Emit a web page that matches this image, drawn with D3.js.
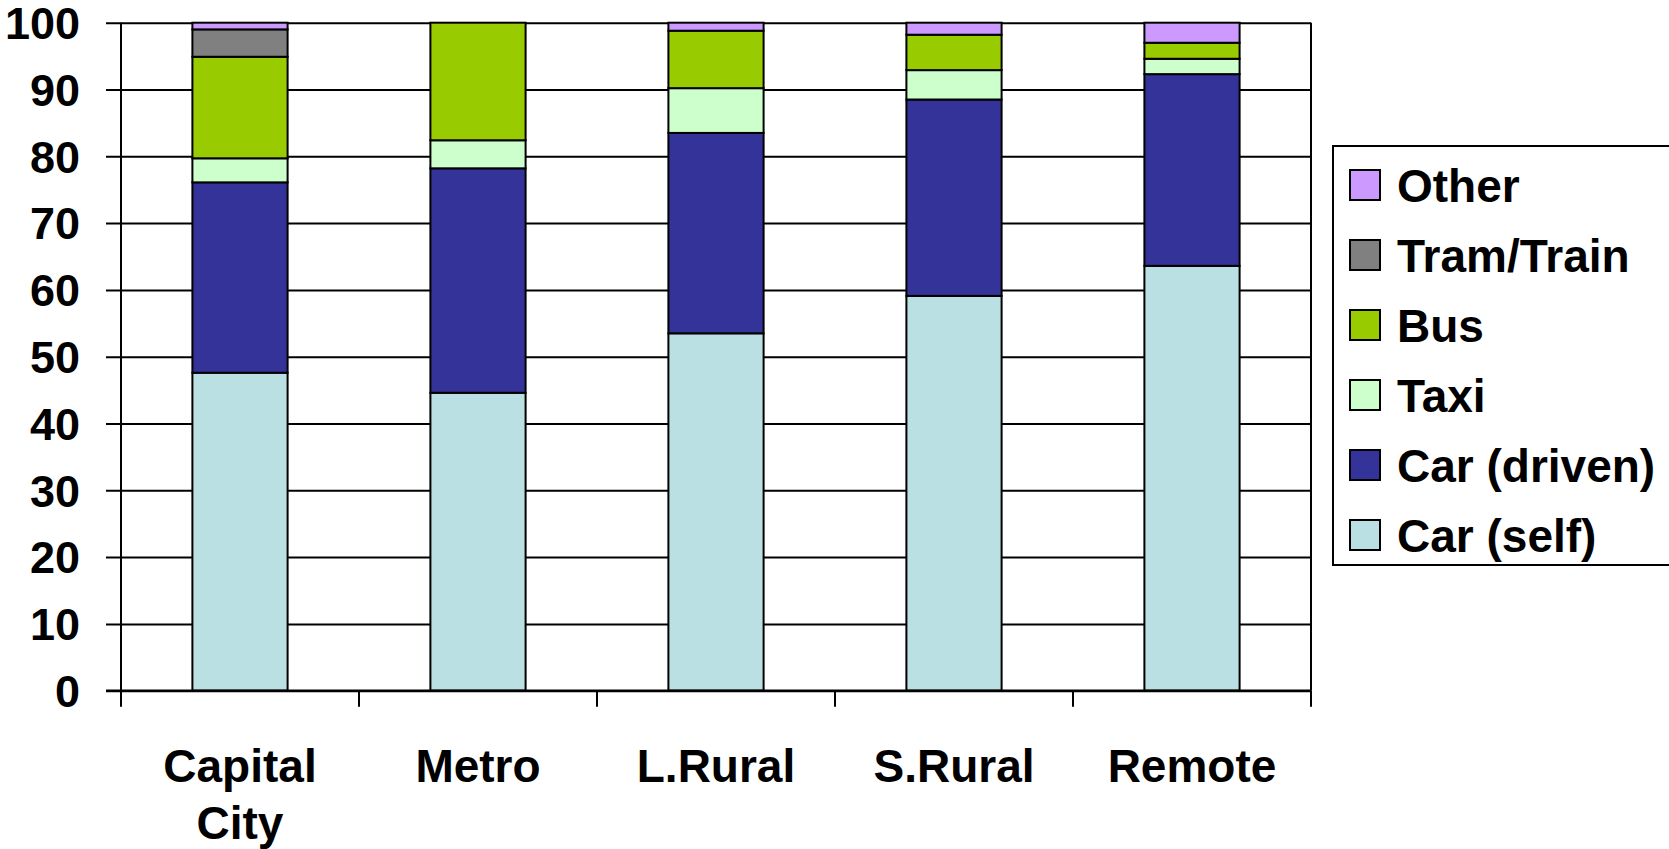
<!DOCTYPE html>
<html>
<head>
<meta charset="utf-8">
<script src="https://cdn.jsdelivr.net/npm/d3@7"></script>
<style>
  html, body { margin: 0; padding: 0; background: #fff; }
  svg { display: block; }
  text { font-family: "Liberation Sans", Arial, sans-serif; font-weight: bold; fill: #000; }
</style>
</head>
<body>
<svg id="chart" width="1669" height="849"></svg>
<script>
// Regions (x categories); "Capital City" wraps onto two lines
const categories = ["Capital City", "Metro", "L.Rural", "S.Rural", "Remote"];
const categoryLines = [["Capital", "City"], ["Metro"], ["L.Rural"], ["S.Rural"], ["Remote"]];

// Share of trips by mode (%), stacked bottom to top
const carSelf   = [47.6, 44.6, 53.5, 59.1, 63.6];
const carDriven = [28.5, 33.6, 30.0, 29.4, 28.7];
const taxi      = [3.6, 4.2, 6.7, 4.4, 2.3];
const bus       = [15.2, 17.6, 8.6, 5.3, 2.4];
const tramTrain = [4.1, 0, 0, 0, 0];
const other     = [1.0, 0, 1.2, 1.8, 3.0];

const seriesNames  = ["Car (self)", "Car (driven)", "Taxi", "Bus", "Tram/Train", "Other"];
const seriesValues = [carSelf, carDriven, taxi, bus, tramTrain, other];
const seriesColors = ["#BBE0E3", "#333399", "#CCFFCC", "#99CC00", "#808080", "#CC99FF"];
const yTicks = [0, 10, 20, 30, 40, 50, 60, 70, 80, 90, 100];

const svg = d3.select("#chart");
const plot = { left: 121, right: 1311, top: 22.7, bottom: 690.7 };

const x = d3.scaleBand()
  .domain(categories)
  .range([plot.left, plot.right])
  .paddingInner(0.6)
  .paddingOuter(0.3);

const y = d3.scaleLinear().domain([0, 100]).range([plot.bottom, plot.top]);

// rows for d3.stack
const rows = categories.map((c, i) => {
  const r = { category: c };
  seriesNames.forEach((s, k) => { r[s] = seriesValues[k][i]; });
  return r;
});
const stacked = d3.stack().keys(seriesNames)(rows);
const color = d3.scaleOrdinal().domain(seriesNames).range(seriesColors);

// horizontal gridlines with outward ticks on the value axis
const yAxis = d3.axisLeft(y).tickValues(yTicks).tickSize(-(plot.right - plot.left)).tickSizeOuter(0).tickFormat("");
const gy = svg.append("g").attr("transform", `translate(${plot.left},0)`).call(yAxis);
gy.select(".domain").remove();
gy.selectAll(".tick line").attr("x1", -15).attr("stroke", "#000").attr("stroke-width", 2);

// value labels
svg.append("g").selectAll("text")
  .data(yTicks)
  .join("text")
  .attr("x", 80)
  .attr("y", d => y(d))
  .attr("dy", "0.36em")
  .attr("text-anchor", "end")
  .attr("font-size", 45)
  .text(d => d);

// stacked bars
svg.append("g").selectAll("g")
  .data(stacked)
  .join("g")
  .attr("fill", d => color(d.key))
  .selectAll("rect")
  .data(d => d.filter(p => p[1] - p[0] > 0))
  .join("rect")
  .attr("x", d => x(d.data.category))
  .attr("y", d => y(d[1]))
  .attr("width", x.bandwidth())
  .attr("height", d => y(d[0]) - y(d[1]))
  .attr("stroke", "#000")
  .attr("stroke-width", 2);

// left axis and right frame line
svg.append("line").attr("x1", plot.left).attr("x2", plot.left)
  .attr("y1", plot.top).attr("y2", plot.bottom).attr("stroke", "#000").attr("stroke-width", 2);
svg.append("line").attr("x1", plot.right).attr("x2", plot.right)
  .attr("y1", plot.top).attr("y2", plot.bottom).attr("stroke", "#000").attr("stroke-width", 2);

// category axis: baseline plus ticks at band boundaries
const step = x.step();
const first = x(categories[0]) - step * x.paddingOuter() - (step - x.bandwidth()) * 0 ;
const boundaries = d3.range(categories.length + 1).map(i => plot.left + i * (plot.right - plot.left) / categories.length);
svg.append("line").attr("x1", plot.left - 15).attr("x2", plot.right)
  .attr("y1", plot.bottom).attr("y2", plot.bottom).attr("stroke", "#000").attr("stroke-width", 2.5);
svg.append("g").selectAll("line")
  .data(boundaries)
  .join("line")
  .attr("x1", d => d).attr("x2", d => d)
  .attr("y1", plot.bottom).attr("y2", plot.bottom + 16)
  .attr("stroke", "#000").attr("stroke-width", 2);

// category labels
svg.append("g").selectAll("text")
  .data(categories)
  .join("text")
  .attr("text-anchor", "middle")
  .attr("font-size", 46)
  .each(function(c, i) {
    const cx = x(c) + x.bandwidth() / 2;
    d3.select(this).selectAll("tspan")
      .data(categoryLines[i])
      .join("tspan")
      .attr("x", cx)
      .attr("y", (d, j) => 782 + j * 57)
      .text(d => d);
  });

// legend
const legend = svg.append("g");
legend.append("rect")
  .attr("x", 1333).attr("y", 146)
  .attr("width", 345).attr("height", 419)
  .attr("fill", "#fff").attr("stroke", "#000").attr("stroke-width", 2);
const legendItems = seriesNames.slice().reverse();
const li = legend.selectAll("g.item")
  .data(legendItems)
  .join("g")
  .attr("class", "item")
  .attr("transform", (d, i) => `translate(1350,${185 + i * 70})`);
li.append("rect")
  .attr("x", 0).attr("y", -15)
  .attr("width", 30).attr("height", 30)
  .attr("fill", d => color(d))
  .attr("stroke", "#000").attr("stroke-width", 2);
li.append("text")
  .attr("x", 47).attr("y", 0)
  .attr("dy", "0.36em")
  .attr("font-size", 46)
  .text(d => d);
</script>
</body>
</html>
